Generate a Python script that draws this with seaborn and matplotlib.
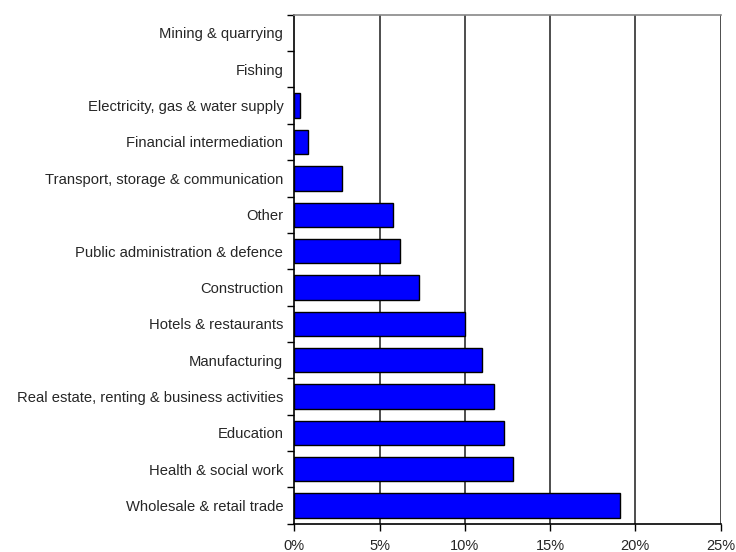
import matplotlib
matplotlib.use("Agg")
import matplotlib.pyplot as plt
import seaborn as sns
import pandas as pd
import numpy as np
from matplotlib.ticker import FixedLocator, FuncFormatter

sectors = [
    "Mining & quarrying",
    "Fishing",
    "Electricity, gas & water supply",
    "Financial intermediation",
    "Transport, storage & communication",
    "Other",
    "Public administration & defence",
    "Construction",
    "Hotels & restaurants",
    "Manufacturing",
    "Real estate, renting & business activities",
    "Education",
    "Health & social work",
    "Wholesale & retail trade",
]
shares = [0.0, 0.0, 0.3, 0.8, 2.8, 5.8, 6.2, 7.3, 10.0, 11.0, 11.7, 12.3, 12.8, 19.1]
x_ticks = [0, 5, 10, 15, 20, 25]

df = pd.DataFrame({"sector": sectors, "share": shares})

sns.set_style("white")
plt.rcParams["font.family"] = ["Liberation Sans", "DejaVu Sans"]

fig = plt.figure(figsize=(7.36, 5.52), dpi=100)
ax = fig.add_axes([0.400, 0.0513, 0.579, 0.922])

sns.barplot(data=df, x="share", y="sector", order=sectors, color="#0000FF",
            saturation=1, width=0.67, edgecolor="black", linewidth=1.0,
            ax=ax, zorder=3)

# empty sectors get no outline
for patch in ax.patches:
    if patch.get_width() == 0:
        patch.set_linewidth(0)

ax.set_xlim(0, 25)
ax.set_ylim(len(sectors) - 0.5, -0.5)
ax.set_xlabel("")
ax.set_ylabel("")

# vertical gridlines
for v in x_ticks[1:]:
    ax.axvline(v, color="#4d4d4d", linewidth=1.4, zorder=1)

ax.xaxis.set_major_locator(FixedLocator(x_ticks))
ax.xaxis.set_major_formatter(FuncFormatter(lambda v, p: f"{v:.0f}%"))
ax.tick_params(axis="x", direction="out", length=5, width=1, color="black",
               labelsize=10.5, pad=6, bottom=True)

# category ticks at boundaries between bars
ax.yaxis.set_minor_locator(FixedLocator(np.arange(-0.5, len(sectors), 1.0)))
ax.tick_params(axis="y", which="major", length=0, labelsize=10.6, pad=8)
ax.tick_params(axis="y", which="minor", direction="out", length=5, width=1,
               color="black", left=True)

for side in ["left", "bottom"]:
    ax.spines[side].set_color("black")
    ax.spines[side].set_linewidth(1.2)
ax.spines["top"].set_color("#888888")
ax.spines["top"].set_linewidth(1.2)
ax.spines["right"].set_visible(False)

fig.savefig("out.png", dpi=100)
